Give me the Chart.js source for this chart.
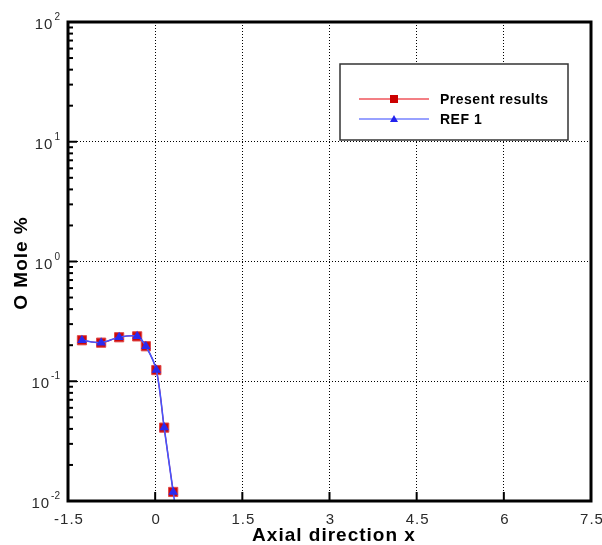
<!DOCTYPE html>
<html>
<head>
<meta charset="utf-8">
<script src="https://cdn.jsdelivr.net/npm/chart.js@4/dist/chart.umd.min.js"></script>
<style>
  html, body { margin:0; padding:0; background:#fff; }
  #wrap { width:602px; height:545px; position:relative; }
</style>
</head>
<body>
<div id="wrap"><canvas id="c" width="602" height="545"></canvas></div>
<script>
// values
const xPresent = [-1.26, -0.93, -0.62, -0.31, -0.16, 0.02, 0.155, 0.31];
const yPresent = [0.22, 0.21, 0.233, 0.237, 0.196, 0.124, 0.041, 0.0119];
const xRef = [-1.26, -0.93, -0.62, -0.31, -0.16, 0.02, 0.155, 0.31, 0.33];
const yRef = [0.22, 0.21, 0.233, 0.237, 0.196, 0.124, 0.041, 0.0119, 0.0102];
const xTicks = [-1.5, 0, 1.5, 3, 4.5, 6, 7.5];
const xTickLabels = ['-1.5', '0', '1.5', '3', '4.5', '6', '7.5'];
const yExps = [-2, -1, 0, 1, 2];

const FONT = 'Arial, "Liberation Sans", sans-serif';
const pts = (xs, ys) => xs.map((x, i) => ({ x, y: ys[i] }));

const frame = {
  id: 'frame',
  afterDraw(chart) {
    const { ctx, chartArea: a, scales: { x, y } } = chart;
    ctx.save();
    // minor + major ticks on the left axis, inside
    ctx.strokeStyle = '#000';
    ctx.lineWidth = 2;
    yExps.forEach(e => {
      const py = y.getPixelForValue(Math.pow(10, e));
      ctx.beginPath(); ctx.moveTo(a.left, py); ctx.lineTo(a.left + 9, py); ctx.stroke();
      if (e < 2) {
        for (let m = 2; m <= 9; m++) {
          const my = y.getPixelForValue(m * Math.pow(10, e));
          ctx.beginPath(); ctx.moveTo(a.left, my); ctx.lineTo(a.left + 5, my); ctx.stroke();
        }
      }
    });
    xTicks.forEach(v => {
      const px = x.getPixelForValue(v);
      ctx.beginPath(); ctx.moveTo(px, a.bottom); ctx.lineTo(px, a.bottom - 9); ctx.stroke();
    });
    // frame
    ctx.lineWidth = 3;
    ctx.strokeRect(a.left, a.top, a.right - a.left, a.bottom - a.top);

    // tick labels
    ctx.fillStyle = '#2a2a2a';
    ctx.letterSpacing = '1px';
    ctx.font = '15px ' + FONT;
    ctx.textAlign = 'center';
    ctx.textBaseline = 'alphabetic';
    xTicks.forEach((v, i) => ctx.fillText(xTickLabels[i], x.getPixelForValue(v) + 1, a.bottom + 23));
    ctx.letterSpacing = '0px';
    yExps.forEach(e => {
      const py = y.getPixelForValue(Math.pow(10, e));
      const sup = String(e);
      ctx.font = '10px ' + FONT;
      const sw = ctx.measureText(sup).width;
      ctx.textAlign = 'left';
      const supX = a.left - 8 - sw;
      ctx.fillText(sup, supX, py - 2);
      ctx.font = '15px ' + FONT;
      ctx.letterSpacing = '1px';
      ctx.textAlign = 'right';
      ctx.fillText('10', supX - 1, py + 7);
      ctx.letterSpacing = '0px';
    });

    // axis titles
    ctx.fillStyle = '#000';
    ctx.font = 'bold 19px ' + FONT;
    ctx.letterSpacing = '1px';
    ctx.textAlign = 'center';
    ctx.textBaseline = 'alphabetic';
    ctx.fillText('Axial direction x', 334, 541);
    ctx.save();
    ctx.translate(27, 263);
    ctx.rotate(-Math.PI / 2);
    ctx.fillText('O Mole %', 0, 0);
    ctx.restore();
    ctx.letterSpacing = '0px';

    // legend
    const lx = 340, ly = 64, lw = 228, lh = 76;
    ctx.fillStyle = '#fff';
    ctx.fillRect(lx, ly, lw, lh);
    ctx.strokeStyle = '#333';
    ctx.lineWidth = 1.5;
    ctx.strokeRect(lx, ly, lw, lh);
    const rows = [
      { label: 'Present results', color: '#e8000b', y: ly + 35, mark: 'sq' },
      { label: 'REF 1', color: '#3344ff', y: ly + 55, mark: 'tri' }
    ];
    rows.forEach(r => {
      ctx.strokeStyle = r.color;
      ctx.lineWidth = 1.2;
      ctx.beginPath(); ctx.moveTo(lx + 19, r.y); ctx.lineTo(lx + 89, r.y); ctx.stroke();
      ctx.fillStyle = r.mark === 'sq' ? '#cc0000' : '#2222ee';
      if (r.mark === 'sq') ctx.fillRect(lx + 50, r.y - 4, 8, 8);
      else {
        ctx.beginPath(); ctx.moveTo(lx + 54, r.y - 4); ctx.lineTo(lx + 58, r.y + 3); ctx.lineTo(lx + 50, r.y + 3); ctx.closePath(); ctx.fill();
      }
      ctx.fillStyle = '#000';
      ctx.font = 'bold 14px ' + FONT;
      ctx.letterSpacing = '0.5px';
      ctx.textAlign = 'left';
      ctx.textBaseline = 'middle';
      ctx.fillText(r.label, lx + 100, r.y + 1);
      ctx.letterSpacing = '0px';
    });
    ctx.restore();
  }
};

new Chart(document.getElementById('c'), {
  type: 'line',
  data: {
    datasets: [
      {
        label: 'Present results',
        data: pts(xPresent, yPresent),
        order: 2,
        borderColor: '#e8000b',
        borderWidth: 1.2,
        backgroundColor: '#cc0a0a',
        pointStyle: 'rect',
        pointRadius: 6.5,
        pointBorderWidth: 1,
        pointBorderColor: '#e04848',
        tension: 0.3
      },
      {
        label: 'REF 1',
        data: pts(xRef, yRef),
        order: 1,
        borderColor: '#4455ff',
        borderWidth: 1.6,
        backgroundColor: '#2a2af0',
        pointStyle: 'triangle',
        pointRadius: xRef.map((v, i) => i < 8 ? 5.5 : 0),
        pointBorderWidth: 0,
        tension: 0.3
      }
    ]
  },
  options: {
    responsive: false,
    animation: false,
    layout: { padding: { left: 68, top: 22, right: 11, bottom: 44 } },
    plugins: { legend: { display: false }, tooltip: { enabled: false } },
    scales: {
      x: {
        type: 'linear',
        min: -1.5, max: 7.5,
        afterBuildTicks: s => { s.ticks = xTicks.map(v => ({ value: v })); },
        ticks: { display: false },
        grid: {
          drawTicks: false,
          color: ctx => (ctx.tick && ctx.tick.value > -1.5 && ctx.tick.value < 7.5) ? '#000' : 'rgba(0,0,0,0)',
          lineWidth: 1
        },
        border: { display: false, dash: [1, 2] }
      },
      y: {
        type: 'logarithmic',
        min: 0.01, max: 100,
        afterBuildTicks: s => { s.ticks = yExps.map(e => ({ value: Math.pow(10, e) })); },
        ticks: { display: false },
        grid: {
          drawTicks: false,
          color: ctx => (ctx.tick && ctx.tick.value > 0.01 && ctx.tick.value < 100) ? '#000' : 'rgba(0,0,0,0)',
          lineWidth: 1
        },
        border: { display: false, dash: [1, 2] }
      }
    }
  },
  plugins: [frame]
});
</script>
</body>
</html>
